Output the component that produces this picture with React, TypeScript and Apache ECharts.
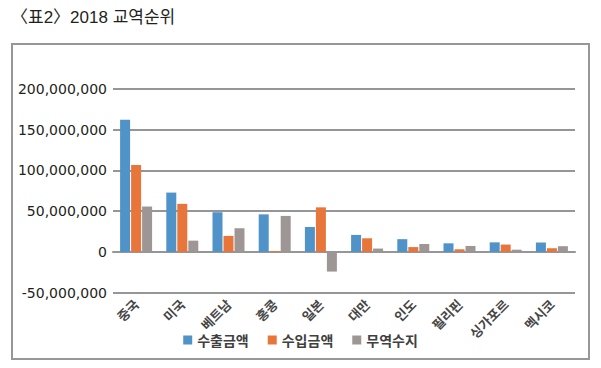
import React, { useEffect, useRef } from "react";
import * as echarts from "echarts";

const categories = ["중국", "미국", "베트남", "홍콩", "일본", "대만", "인도", "필리핀", "싱가포르", "멕시코"];
const exportValues = [162100000, 72700000, 48600000, 46000000, 30500000, 20800000, 15600000, 10500000, 11700000, 11500000];
const importValues = [106500000, 58900000, 19600000, 1000000, 54600000, 16700000, 5900000, 3200000, 9000000, 4500000];
const balanceValues = [55600000, 13800000, 29000000, 44100000, -24100000, 4100000, 9700000, 7300000, 2700000, 7000000];
const seriesNames = ["수출금액", "수입금액", "무역수지"];
const title = "〈표2〉2018 교역순위";

const colors = ["#4f93c8", "#e8763a", "#9e9694"];

export default function App() {
  const ref = useRef<HTMLDivElement>(null);
  useEffect(() => {
    document.body.style.margin = "0";
    const chart = echarts.init(ref.current!, null, { renderer: "svg" });
    const fmt = (v: number) => {
      const s = Math.abs(v).toString().replace(/\B(?=(\d{3})+(?!\d))/g, ",");
      return v < 0 ? "-" + s : s;
    };
    chart.setOption({
      animation: false,
      color: colors,
      graphic: [
        {
          type: "rect",
          shape: { x: 12, y: 44, width: 577, height: 315 },
          style: { fill: "none", stroke: "#97979b", lineWidth: 2 },
          z: -1,
        },
        {
          type: "text",
          left: 11,
          top: 9,
          style: {
            text: title,
            font: "17px 'Liberation Sans', 'Noto Sans CJK KR', sans-serif",
            fill: "#231f20",
          },
        },
      ],
      legend: {
        data: seriesNames,
        top: 328,
        left: "center",
        itemWidth: 9,
        itemHeight: 9,
        itemGap: 19,
        icon: "rect",
        textStyle: {
          fontFamily: "'Noto Sans CJK KR', sans-serif",
          fontSize: 14,
          fontWeight: "bold",
          color: "#404040",
        },
      },
      grid: { left: 113, right: 26, top: 88.7, bottom: 75.3 },
      xAxis: {
        type: "category",
        data: categories,
        axisLine: { onZero: true, lineStyle: { color: "#96969a", width: 2 } },
        axisTick: { show: false },
        axisLabel: {
          rotate: 45,
          margin: 9,
          interval: 0,
          fontFamily: "'Noto Sans CJK KR', sans-serif",
          fontSize: 13,
          fontWeight: "bold",
          color: "#454545",
        },
      },
      yAxis: {
        type: "value",
        min: -50000000,
        max: 200000000,
        interval: 50000000,
        axisLine: { show: false },
        axisTick: { show: false },
        splitLine: { lineStyle: { color: "#96969a", width: 2 } },
        axisLabel: {
          formatter: fmt,
          margin: 6,
          fontFamily: "'DejaVu Sans', sans-serif",
          fontSize: 14,
          color: "#231f20",
        },
      },
      series: [
        { name: seriesNames[0], type: "bar", data: exportValues, barWidth: 10, barGap: "10%" },
        { name: seriesNames[1], type: "bar", data: importValues, barWidth: 10, barGap: "10%" },
        { name: seriesNames[2], type: "bar", data: balanceValues, barWidth: 10, barGap: "10%" },
      ],
    });
    return () => chart.dispose();
  }, []);
  return <div ref={ref} style={{ width: 601, height: 368 }} />;
}
